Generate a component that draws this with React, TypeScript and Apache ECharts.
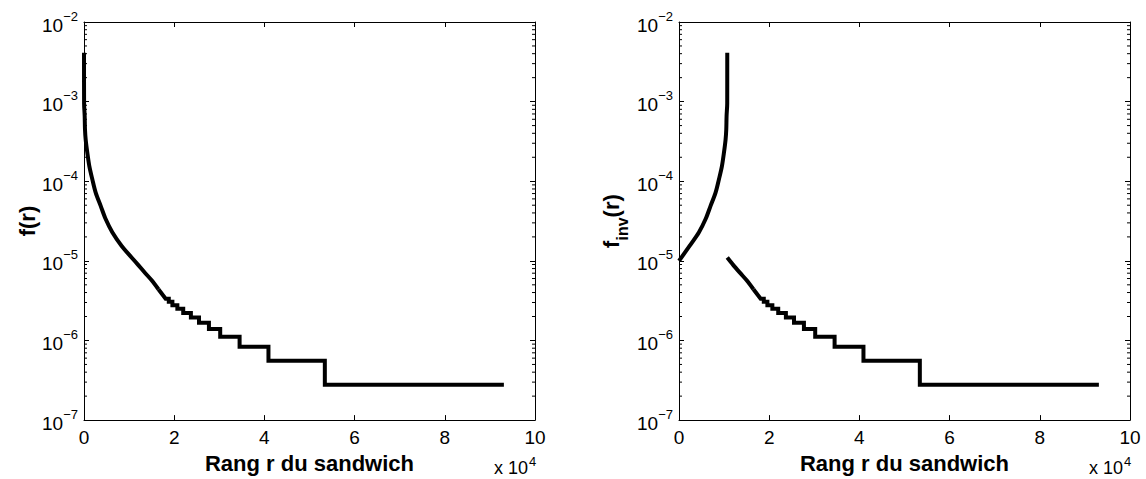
import React, { useEffect, useRef } from "react";
import * as echarts from "echarts";

const FONT = '"Liberation Sans", Arial, Helvetica, sans-serif';

// ---- data ----
// f(r): steep head of the curve (rank r, frequency f)
const fHead: [number, number][] = [
  [1, 4.1e-3], [20, 9.5e-4], [150, 6.6e-4], [220, 4.47e-4], [370, 3.35e-4], [730, 2.29e-4],
  [1180, 1.55e-4], [1840, 1.06e-4], [2590, 7.2e-5], [3700, 4.9e-5], [4800, 3.35e-5],
  [6270, 2.29e-5], [8350, 1.54e-5], [10700, 1.08e-5],
];
// common tail (both panels) before the visible stairs
const fTail: [number, number][] = [
  [10700, 1.1e-5], [12000, 8.9e-6], [13600, 7.0e-6], [15000, 5.7e-6], [16500, 4.4e-6],
];
// staircase: rank where each level starts, and its level
const stairStarts = [18100, 18800, 19600, 20700, 22000, 23700, 25500, 27700, 30200, 34500, 40900, 53400];
const stairLevels = [3.34e-6, 3.06e-6, 2.78e-6, 2.5e-6, 2.22e-6, 1.95e-6, 1.67e-6, 1.39e-6, 1.11e-6, 8.34e-7, 5.56e-7, 2.78e-7];
const stairEnd = 93100;
// f_inv(r): rising part on the right panel
const finvRise: [number, number][] = [
  [0, 1.0e-5], [2350, 1.54e-5], [4430, 2.29e-5], [5900, 3.35e-5], [7000, 4.9e-5], [8110, 7.2e-5],
  [8860, 1.06e-4], [9520, 1.55e-4], [9970, 2.29e-4], [10330, 3.35e-4], [10480, 4.47e-4],
  [10550, 6.6e-4], [10690, 9.5e-4], [10700, 4.1e-3],
];
// axes
const xMin = 0;
const xMax = 100000;
const xInterval = 20000;
const yMin = 1e-7;
const yMax = 1e-2;
const minorMultipliers = [2, 3, 4, 5, 6, 7, 8, 9];
const minorDecades = [-7, -6, -5, -4, -3];

function buildStairs(): [number, number][] {
  const pts: [number, number][] = [fTail[fTail.length - 1]];
  for (let i = 0; i < stairStarts.length; i++) {
    const next = i + 1 < stairStarts.length ? stairStarts[i + 1] : stairEnd;
    pts.push([stairStarts[i], stairLevels[i]]);
    pts.push([next, stairLevels[i]]);
  }
  return pts;
}

export default function App() {
  const ref = useRef<HTMLDivElement>(null);
  useEffect(() => {
    if (!ref.current) return;
    const chart = echarts.init(ref.current, undefined, { renderer: "svg" });
    const stairs = buildStairs();
    const minorVals: [number, number][] = [];
    minorDecades.forEach((d) => minorMultipliers.forEach((m) => minorVals.push([0, m * Math.pow(10, d)])));

    const grids = [
      { left: 84, top: 22, width: 451, height: 400 },
      { left: 679, top: 22, width: 451, height: 400 },
    ];
    const axisLine = { show: true, onZero: false, lineStyle: { color: "#000", width: 1 } };
    const tickLabelStyle = { fontFamily: FONT, fontSize: 19, color: "#000" };
    const xAxes: any[] = [];
    const yAxes: any[] = [];
    const yNames = ["f(r)", "{a|f}{b|inv}{a|(r)}"];
    const yGaps = [46, 49];
    [0, 1].forEach((g) => {
      xAxes.push({
        type: "value", gridIndex: g, min: xMin, max: xMax, interval: xInterval, position: "bottom",
        axisLine, splitLine: { show: false },
        axisTick: { show: true, inside: true, length: 5, lineStyle: { color: "#000" } },
        axisLabel: { ...tickLabelStyle, margin: 8, formatter: (v: number) => String(Math.round(v / 1e4)) },
        name: "Rang r du sandwich", nameLocation: "middle", nameGap: 30,
        nameTextStyle: { fontFamily: FONT, fontSize: 22, fontWeight: "bold", color: "#000" },
      });
      xAxes.push({
        type: "value", gridIndex: g, min: xMin, max: xMax, interval: xInterval, position: "top",
        axisLine, splitLine: { show: false },
        axisTick: { show: true, inside: true, length: 5, lineStyle: { color: "#000" } },
        axisLabel: { show: false },
      });
      yAxes.push({
        type: "log", logBase: 10, gridIndex: g, min: yMin, max: yMax, splitNumber: 5, position: "left",
        axisLine, splitLine: { show: false },
        axisTick: { show: true, inside: true, length: 5, lineStyle: { color: "#000" } },
        axisLabel: {
          margin: 6,
          formatter: (v: number) => `{b|10}{s|\u2212${Math.abs(Math.round(Math.log10(v)))}}`,
          rich: {
            b: { ...tickLabelStyle, verticalAlign: "bottom", lineHeight: 25 },
            s: { fontFamily: FONT, fontSize: 13, color: "#000", verticalAlign: "top", lineHeight: 25 },
          },
        },
        name: yNames[g], nameLocation: "middle", nameGap: yGaps[g],
        nameTextStyle: {
          fontFamily: FONT, fontSize: 22, fontWeight: "bold", color: "#000",
          rich: {
            a: { fontFamily: FONT, fontSize: 22, fontWeight: "bold", color: "#000", verticalAlign: "top", lineHeight: 30 },
            b: { fontFamily: FONT, fontSize: 16, fontWeight: "bold", color: "#000", verticalAlign: "bottom", lineHeight: 30 },
          },
        },
      });
      yAxes.push({
        type: "log", logBase: 10, gridIndex: g, min: yMin, max: yMax, splitNumber: 5, position: "right",
        axisLine, splitLine: { show: false },
        axisTick: { show: true, inside: true, length: 5, lineStyle: { color: "#000" } },
        axisLabel: { show: false },
      });
    });

    const lineStyle = { color: "#000", width: 4, join: "miter" as const, cap: "butt" as const };
    const lineBase = { type: "line", showSymbol: false, symbol: "none", silent: true, lineStyle, clip: true };
    const curveBase = { ...lineBase, smooth: 0.3 };
    const minorSeries = (g: number) => ({
      type: "custom",
      xAxisIndex: g * 2,
      yAxisIndex: g * 2,
      silent: true,
      clip: false,
      data: minorVals,
      renderItem: (_p: any, api: any) => {
        const v = api.value(1);
        const pl = api.coord([xMin, v]);
        const pr = api.coord([xMax, v]);
        return {
          type: "group",
          children: [
            { type: "line", shape: { x1: pl[0], y1: pl[1], x2: pl[0] + 3, y2: pl[1] }, style: { stroke: "#000", lineWidth: 1 } },
            { type: "line", shape: { x1: pr[0], y1: pr[1], x2: pr[0] - 3, y2: pr[1] }, style: { stroke: "#000", lineWidth: 1 } },
          ],
        };
      },
    });

    const expText = (rightEdge: number) => [
      { type: "text", x: rightEdge - 7, y: 477, style: { text: "x 10", font: `18px ${FONT}`, fill: "#000", textAlign: "right", textVerticalAlign: "bottom" } },
      { type: "text", x: rightEdge - 6, y: 468, style: { text: "4", font: `13px ${FONT}`, fill: "#000", textAlign: "left", textVerticalAlign: "bottom" } },
    ];

    chart.setOption({
      animation: false,
      backgroundColor: "#fff",
      grid: grids,
      xAxis: xAxes,
      yAxis: yAxes,
      graphic: [...expText(535), ...expText(1130)],
      series: [
        { ...curveBase, xAxisIndex: 0, yAxisIndex: 0, data: [...fHead, ...fTail.slice(1)] },
        { ...lineBase, xAxisIndex: 0, yAxisIndex: 0, data: stairs },
        { ...curveBase, xAxisIndex: 2, yAxisIndex: 2, data: finvRise },
        { ...curveBase, xAxisIndex: 2, yAxisIndex: 2, data: fTail },
        { ...lineBase, xAxisIndex: 2, yAxisIndex: 2, data: stairs },
        minorSeries(0),
        minorSeries(1),
      ],
    });
    return () => chart.dispose();
  }, []);
  return <div ref={ref} style={{ position: "absolute", left: 0, top: 0, width: 1146, height: 479 }} />;
}
